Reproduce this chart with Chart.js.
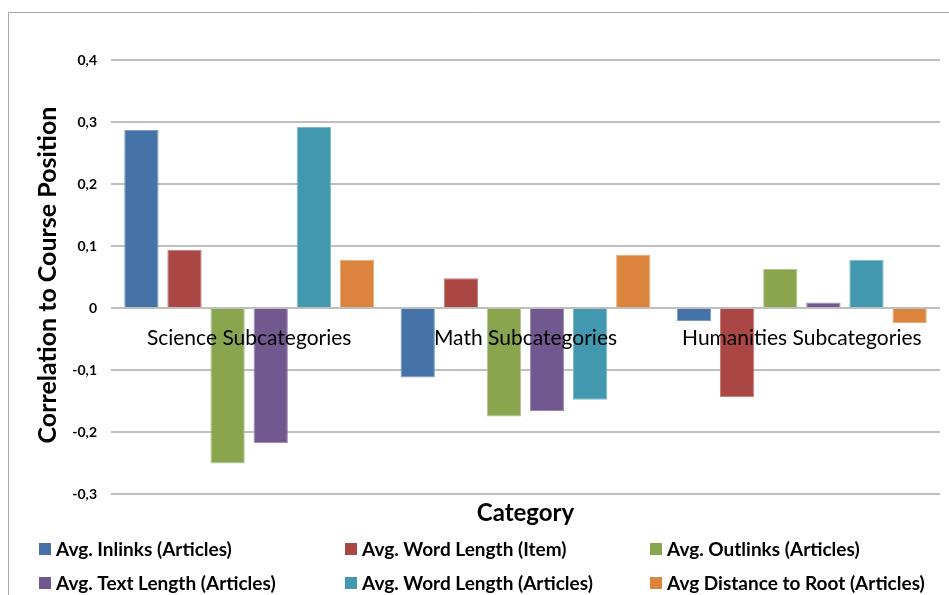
<!DOCTYPE html>
<html>
<head>
<meta charset="utf-8">
<script src="https://cdn.jsdelivr.net/npm/chart.js@4/dist/chart.umd.min.js"></script>
<style>
  html, body { margin: 0; padding: 0; background: #ffffff; }
  #wrap { position: relative; width: 949px; height: 595px; }
</style>
</head>
<body>
<div id="wrap"><canvas id="chart" width="949" height="595"></canvas></div>
<script>
// Categories along the x axis
const categories = ['Science Subcategories', 'Math Subcategories', 'Humanities Subcategories'];

// Series names
const seriesNames = [
  'Avg. Inlinks (Articles)',
  'Avg. Word Length (Item)',
  'Avg. Outlinks (Articles)',
  'Avg. Text Length (Articles)',
  'Avg. Word Length (Articles)',
  'Avg Distance to Root (Articles)'
];

// Correlation values per series (Science, Math, Humanities)
const inlinksArticles      = [0.287, -0.112, -0.021];
const wordLengthItem       = [0.094,  0.048, -0.144];
const outlinksArticles     = [-0.251, -0.175, 0.063];
const textLengthArticles   = [-0.218, -0.166, 0.009];
const wordLengthArticles   = [0.292, -0.148, 0.078];
const distanceToRoot       = [0.078,  0.086, -0.024];

// Y axis tick labels (decimal comma), bottom to top
const yTickLabels = ['-0,3', '-0,2', '-0,1', '0', '0,1', '0,2', '0,3', '0,4'];

const seriesValues = [inlinksArticles, wordLengthItem, outlinksArticles,
                      textLengthArticles, wordLengthArticles, distanceToRoot];
const seriesColors = ['#4572A7', '#AA4643', '#89A54E', '#71588F', '#4198AF', '#DB843D'];
const seriesEdges  = ['#7A9CC4', '#C47C7A', '#B1C78E', '#9A88B2', '#7DBACB', '#E8AA7A'];

const FONT = 'Lato, "Open Sans", sans-serif';

// Draws the frame, category labels on the zero line, axis titles and the legend
const decorations = {
  id: 'decorations',
  beforeDraw(chart) {
    const ctx = chart.ctx;
    ctx.save();
    ctx.strokeStyle = '#A6A6A6';
    ctx.lineWidth = 1;
    ctx.beginPath();
    ctx.moveTo(8.5, 595);
    ctx.lineTo(8.5, 12.5);
    ctx.lineTo(949, 12.5);
    ctx.stroke();
    ctx.restore();
  },
  afterDatasetsDraw(chart) {
    const ctx = chart.ctx;
    const xs = chart.scales.x;
    const ys = chart.scales.y;
    const zeroY = ys.getPixelForValue(0);
    ctx.save();
    // category labels sitting just below the zero line
    ctx.fillStyle = '#000000';
    ctx.font = '21px ' + FONT;
    ctx.textAlign = 'center';
    ctx.textBaseline = 'middle';
    categories.forEach((c, i) => {
      ctx.fillText(c, xs.getPixelForValue(i), zeroY + 30);
    });
    // y axis title
    ctx.font = 'bold 25px ' + FONT;
    ctx.translate(48, (ys.top + ys.bottom) / 2 - 2);
    ctx.rotate(-Math.PI / 2);
    ctx.fillText('Correlation to Course Position', 0, 0);
    ctx.restore();

    ctx.save();
    // x axis title
    ctx.fillStyle = '#000000';
    ctx.font = 'bold 24px ' + FONT;
    ctx.textAlign = 'center';
    ctx.textBaseline = 'middle';
    ctx.fillText('Category', (xs.left + xs.right) / 2, 513);
    // legend: two rows of three
    const colX = [39, 345, 650];
    const rowY = [549, 583];
    ctx.font = 'bold 19px ' + FONT;
    ctx.textAlign = 'left';
    seriesNames.forEach((name, i) => {
      const x = colX[i % 3];
      const y = rowY[Math.floor(i / 3)];
      ctx.fillStyle = seriesColors[i];
      ctx.fillRect(x, y - 6, 12, 12);
      ctx.fillStyle = '#000000';
      ctx.fillText(name, x + 17, y + 1);
    });
    ctx.restore();
  }
};

new Chart(document.getElementById('chart'), {
  type: 'bar',
  data: {
    labels: categories,
    datasets: seriesNames.map((name, i) => ({
      label: name,
      data: seriesValues[i],
      backgroundColor: seriesColors[i],
      borderColor: seriesEdges[i],
      borderWidth: 1,
      categoryPercentage: 0.936,
      barPercentage: 0.796
    }))
  },
  options: {
    responsive: false,
    animation: false,
    devicePixelRatio: 1,
    layout: { padding: { top: 60, bottom: 101, left: 0, right: 9 } },
    plugins: { legend: { display: false }, tooltip: { enabled: false } },
    scales: {
      x: {
        display: true,
        grid: { display: false },
        border: { display: false },
        ticks: { display: false },
        afterFit(s) { s.height = 0; }
      },
      y: {
        min: -0.3,
        max: 0.4,
        afterFit(s) { s.width = 111; },
        border: { display: false },
        grid: { color: '#BEBEBE', lineWidth: 2, drawTicks: false },
        ticks: {
          stepSize: 0.1,
          padding: 14,
          color: '#000000',
          font: { family: FONT, size: 14, weight: 'bold' },
          callback: (v, i) => yTickLabels[i]
        }
      }
    }
  },
  plugins: [decorations]
});
</script>
</body>
</html>
